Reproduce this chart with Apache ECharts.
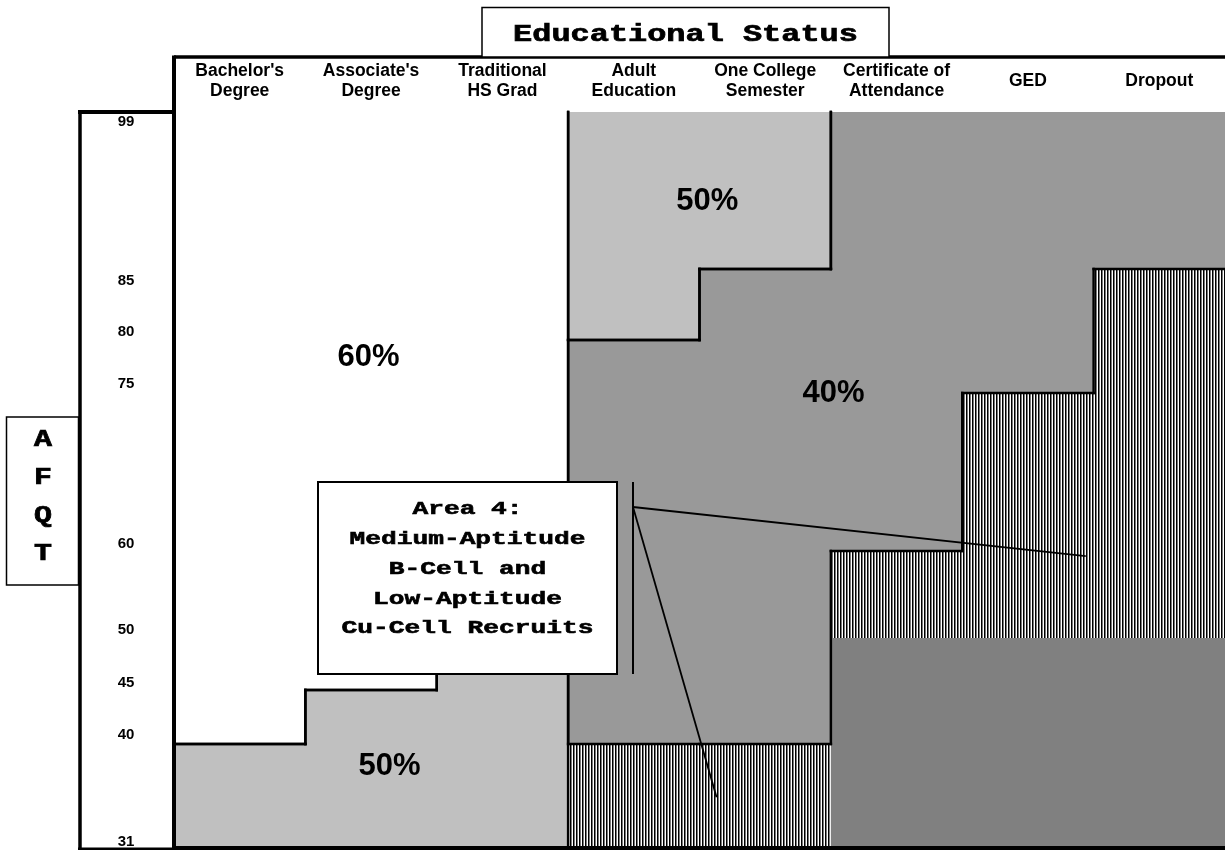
<!DOCTYPE html>
<html>
<head>
<meta charset="utf-8">
<script src="https://cdn.jsdelivr.net/npm/echarts@6/dist/echarts.min.js"></script>
<style>
html,body{margin:0;padding:0;background:#fff;}
#c{width:1225px;height:850px;}
</style>
</head>
<body>
<div id="c"></div>
<script>
// ---------------- DATA ----------------
const categories = ["Bachelor's\nDegree", "Associate's\nDegree", "Traditional\nHS Grad", "Adult\nEducation",
  "One College\nSemester", "Certificate of\nAttendance", "GED", "Dropout"];
const afqtTicks = [31, 40, 45, 50, 60, 75, 80, 85, 99];
// per educational category: [low AFQT, high AFQT] of each area (null = absent)
const region60     = [[40, 99], [45, 99], [50, 99], null, null, null, null, null];
const region50Low  = [[31, 40], [31, 45], [31, 50], null, null, null, null, null];
const region50High = [null, null, null, [80, 99], [85, 99], null, null, null];
const region40     = [null, null, null, [40, 80], [40, 85], [60, 99], [75, 99], [85, 99]];
const regionArea4  = [null, null, null, [31, 40], [31, 40], [50, 60], [50, 75], [50, 85]];
const regionRest   = [null, null, null, null, null, [31, 50], [31, 50], [31, 50]];
const regionLabelText = ['60%', '50%', '40%', '50%'];
const regionLabelCol  = [1.48, 4.06, 5.02, 1.64];
const regionLabelAfqt = [78.4, 91.0, 75.0, 38.1];
const calloutTitle = 'Area 4:\nMedium-Aptitude\nB-Cell and\nLow-Aptitude\nCu-Cell Recruits';
const calloutTargetCol  = [6.94, 4.13];
const calloutTargetAfqt = [59.4, 35.4];

// ---------------- LAYOUT / STYLE ----------------
// non-uniform AFQT axis: pixel height (from the bottom of the plot) of each tick value
const tickPos = [0, 104, 158, 210, 297, 455, 508, 579, 736];
const tickLabelShift = [-6, -9, -7, -8, -7, -9, -8, 12, 10];
const SANS = '"Liberation Sans", Arial, Helvetica, sans-serif';
const MONO = '"Liberation Mono", "Courier New", Courier, monospace';

function toDisp(a) {
  for (let i = 0; i < afqtTicks.length - 1; i++) {
    if (a <= afqtTicks[i + 1]) {
      const t = (a - afqtTicks[i]) / (afqtTicks[i + 1] - afqtTicks[i]);
      return tickPos[i] + t * (tickPos[i + 1] - tickPos[i]);
    }
  }
  return tickPos[tickPos.length - 1];
}

// hatch pattern (vertical lines)
const hatch = document.createElement('canvas');
hatch.width = 3; hatch.height = 6;
(function () {
  const g = hatch.getContext('2d');
  g.fillStyle = '#ffffff'; g.fillRect(0, 0, 3, 6);
  g.fillStyle = '#000000'; g.fillRect(0, 0, 1, 6);
  g.fillStyle = '#7a7a7a'; g.fillRect(1, 0, 1, 6);
})();

const regions = [
  { ranges: region60, fill: '#ffffff', outline: true },
  { ranges: region50Low, fill: '#c0c0c0', outline: true },
  { ranges: region50High, fill: '#c0c0c0', outline: true },
  { ranges: region40, fill: '#999999', outline: true },
  { ranges: regionArea4, fill: { image: hatch, repeat: 'repeat' }, outline: false },
  { ranges: regionRest, fill: '#808080', outline: false }
];

function polygonOf(ranges) {
  const cols = [];
  ranges.forEach((r, i) => { if (r) cols.push(i); });
  const top = [], bot = [];
  cols.forEach(i => { top.push([i, ranges[i][1]], [i + 1, ranges[i][1]]); });
  for (let k = cols.length - 1; k >= 0; k--) {
    const i = cols[k];
    bot.push([i + 1, ranges[i][0]], [i, ranges[i][0]]);
  }
  return top.concat(bot);
}

const N = categories.length;
const aMin = afqtTicks[0], aMax = afqtTicks[afqtTicks.length - 1];

function renderFill(params, api) {
  const reg = regions[params.dataIndex];
  const pts = polygonOf(reg.ranges).map(p => api.coord([p[0], toDisp(p[1])]));
  return { type: 'polygon', shape: { points: pts }, style: { fill: reg.fill, stroke: null } };
}

function renderOutline(params, api) {
  const reg = regions[params.dataIndex];
  if (!reg.outline) return null;
  const poly = polygonOf(reg.ranges);
  const children = [];
  for (let i = 0; i < poly.length; i++) {
    const p = poly[i], q = poly[(i + 1) % poly.length];
    if (p[0] === q[0] && p[1] === q[1]) continue;
    if (p[0] === q[0] && (p[0] === 0 || p[0] === N)) continue;
    if (p[1] === q[1] && (p[1] === aMin || p[1] === aMax)) continue;
    const a = api.coord([p[0], toDisp(p[1])]);
    const b = api.coord([q[0], toDisp(q[1])]);
    children.push({ type: 'line', shape: { x1: a[0], y1: a[1], x2: b[0], y2: b[1] },
      style: { stroke: '#000', lineWidth: 2.5, lineCap: 'square' } });
  }
  return { type: 'group', children };
}

function renderRegionLabel(params, api) {
  const i = params.dataIndex;
  const c = api.coord([regionLabelCol[i], toDisp(regionLabelAfqt[i])]);
  return { type: 'text', x: c[0], y: c[1],
    style: { text: regionLabelText[i], fill: '#000', fontFamily: SANS, fontWeight: 'bold', fontSize: 31,
      align: 'center', verticalAlign: 'middle' } };
}

const rich = {};
afqtTicks.forEach((t, i) => {
  const s = tickLabelShift[i];
  rich['s' + i] = { fontFamily: SANS, fontWeight: 'bold', fontSize: 15, color: '#000',
    padding: s < 0 ? [0, 0, -2 * s, 0] : [2 * s, 0, 0, 0] };
});

const chart = echarts.init(document.getElementById('c'), null, { renderer: 'canvas' });
const option = {
  animation: false,
  backgroundColor: '#ffffff',
  grid: { left: 174, right: 0, top: 112, bottom: 2, containLabel: false },
  xAxis: [
    { type: 'category', data: categories, position: 'top', boundaryGap: true, z: 10,
      axisLine: { show: true, lineStyle: { color: '#000', width: 4 } },
      axisTick: { show: false }, splitLine: { show: false },
      axisLabel: { color: '#000', fontFamily: SANS, fontWeight: 'bold', fontSize: 17.5, lineHeight: 20,
        margin: 31, verticalAlign: 'middle', interval: 0 } },
    { type: 'value', min: 0, max: N, show: false }
  ],
  yAxis: [
    { type: 'value', min: 0, max: tickPos[tickPos.length - 1], z: 10,
      axisLine: { show: true, lineStyle: { color: '#000', width: 4 } },
      axisTick: { show: false }, splitLine: { show: false },
      axisLabel: { show: true, align: 'center', margin: 48,
        customValues: afqtTicks.map(toDisp),
        formatter: function (v) {
          let best = 0;
          afqtTicks.forEach((t, i) => { if (Math.abs(toDisp(t) - v) < Math.abs(toDisp(afqtTicks[best]) - v)) best = i; });
          return '{s' + best + '|' + afqtTicks[best] + '}';
        },
        rich: rich } }
  ],
  series: [
    { type: 'custom', name: 'areas', xAxisIndex: 1, yAxisIndex: 0, z: 2,
      data: regions.map((r, i) => i), renderItem: renderFill, silent: true },
    { type: 'custom', name: 'outlines', xAxisIndex: 1, yAxisIndex: 0, z: 3,
      data: regions.map((r, i) => i), renderItem: renderOutline, silent: true },
    { type: 'custom', name: 'labels', xAxisIndex: 1, yAxisIndex: 0, z: 4,
      data: regionLabelText.map((r, i) => i), renderItem: renderRegionLabel, silent: true }
  ]
};
chart.setOption(option);

// ---------------- FRAME & ANNOTATIONS ----------------
const anchor = [633, 507];
const targets = calloutTargetCol.map((c, i) =>
  chart.convertToPixel({ xAxisIndex: 1, yAxisIndex: 0 }, [c, toDisp(calloutTargetAfqt[i])]));
const L = (x1, y1, x2, y2, w) => ({ type: 'line', z: 100, silent: true,
  shape: { x1, y1, x2, y2 }, style: { stroke: '#000', lineWidth: w } });

chart.setOption({
  graphic: [
    L(174, 57, 1225, 57, 3.5),
    L(174, 55.5, 174, 112, 4),
    L(78, 112, 174, 112, 4),
    L(80, 110, 80, 850, 3.5),
    L(78, 849.5, 1225, 849.5, 4),
    { type: 'rect', z: 100, shape: { x: 482, y: 7.5, width: 407, height: 49.5 },
      style: { fill: '#fff', stroke: '#000', lineWidth: 1.5 } },
    { type: 'text', z: 101, x: 685.5, y: 35, scaleX: 1.33,
      style: { text: 'Educational Status', fill: '#000', stroke: '#000', lineWidth: 0.7,
        fontFamily: MONO, fontWeight: 'bold', fontSize: 24, align: 'center', verticalAlign: 'middle' } },
    { type: 'rect', z: 100, shape: { x: 6.5, y: 417, width: 72, height: 168 },
      style: { fill: '#fff', stroke: '#000', lineWidth: 1.5 } },
    { type: 'text', z: 101, x: 43, y: 497.5, scaleX: 1.3,
      style: { text: 'A\nF\nQ\nT', fill: '#000', stroke: '#000', lineWidth: 0.7,
        fontFamily: MONO, fontWeight: 'bold', fontSize: 23, lineHeight: 38, align: 'center', verticalAlign: 'middle' } },
    { type: 'rect', z: 100, shape: { x: 318, y: 482, width: 299, height: 192 },
      style: { fill: '#fff', stroke: '#000', lineWidth: 2 } },
    { type: 'text', z: 101, x: 467.5, y: 569, scaleX: 1.38,
      style: { text: calloutTitle, fill: '#000', stroke: '#000', lineWidth: 0.6,
        fontFamily: MONO, fontWeight: 'bold', fontSize: 19, lineHeight: 29.8, align: 'center', verticalAlign: 'middle' } },
    L(633, 482, 633, 674, 2),
    L(anchor[0], anchor[1], targets[0][0], targets[0][1], 1.8),
    L(anchor[0], anchor[1], targets[1][0], targets[1][1], 1.8)
  ]
});
</script>
</body>
</html>
